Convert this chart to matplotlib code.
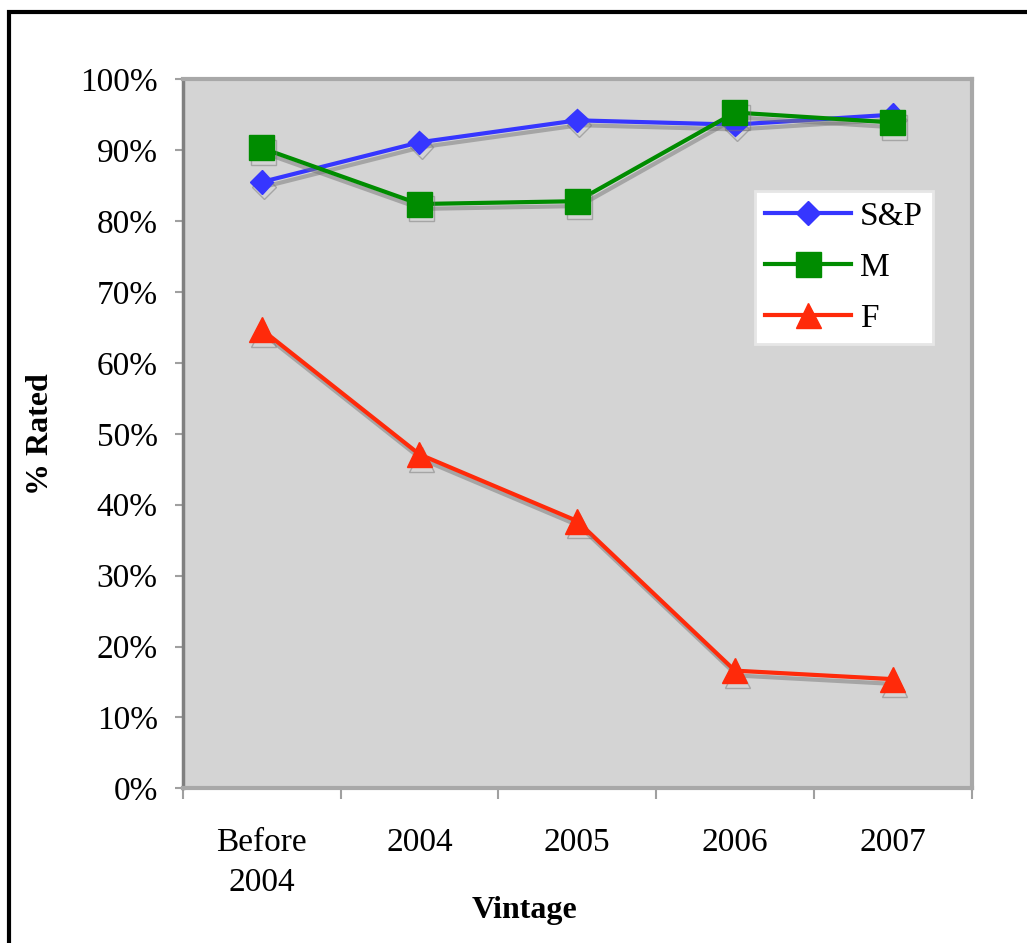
import numpy as np
import matplotlib
matplotlib.use("Agg")
import matplotlib.pyplot as plt
import matplotlib.patheffects as pe
from matplotlib.patches import Rectangle
from matplotlib.ticker import FuncFormatter

# data
vintages = ["Before\n2004", "2004", "2005", "2006", "2007"]
sp_rated = [85.5, 91.1, 94.2, 93.6, 95.0]
m_rated = [90.3, 82.4, 82.8, 95.3, 93.9]
f_rated = [64.7, 47.1, 37.7, 16.6, 15.4]
y_ticks = [0, 10, 20, 30, 40, 50, 60, 70, 80, 90, 100]

plt.rcParams["font.family"] = ["Liberation Serif", "DejaVu Serif"]

fig = plt.figure(figsize=(10.27, 9.43), dpi=100)
ax = fig.add_axes([0.178, 0.164, 0.768, 0.752])
ax.set_facecolor("#d4d4d4")

# outer black frame (cropped on right and bottom in the reference)
fig.add_artist(Rectangle((9 / 1027, -0.1), 1.2, 1.1 - 12 / 943,
                         transform=fig.transFigure, fill=False,
                         edgecolor="black", linewidth=3, clip_on=False))

x = np.arange(len(vintages))
shadow = [pe.SimpleLineShadow(offset=(1.5, -3.5), shadow_color="#777777", alpha=0.5), pe.Normal()]

ax.plot(x, sp_rated, color="#3636ff", linewidth=3, marker="D", markersize=12,
        label="S&P", path_effects=shadow, zorder=3)
ax.plot(x, m_rated, color="#008c00", linewidth=3, marker="s", markersize=18,
        label="M", path_effects=shadow, zorder=4)
ax.plot(x, f_rated, color="#ff2a0a", linewidth=3, marker="^", markersize=18,
        label="F", path_effects=shadow, zorder=3)

ax.set_xlim(-0.5, len(vintages) - 0.5)
ax.set_ylim(0, 100)
ax.set_yticks(y_ticks)
ax.yaxis.set_major_formatter(FuncFormatter(lambda v, _: f"{v:.0f}%"))
ax.set_xticks(x)
ax.set_xticklabels(vintages)
ax.set_xticks(np.arange(-0.5, len(vintages)), minor=True)

ax.tick_params(axis="y", labelsize=24, length=6, width=1.5, color="#a0a0a0", pad=12)
ax.tick_params(axis="x", which="major", labelsize=24, length=0, pad=28)
ax.tick_params(axis="x", which="minor", length=8, width=1.5, color="#a0a0a0")
for lab in ax.get_xticklabels():
    lab.set_linespacing(1.4)

for side in ["top", "right", "bottom"]:
    ax.spines[side].set_color("#a8a8a8")
    ax.spines[side].set_linewidth(3)
ax.spines["left"].set_color("#808080")
ax.spines["left"].set_linewidth(2.5)

ax.set_ylabel("% Rated", fontsize=23, fontweight="bold", labelpad=18)
ax.set_xlabel("Vintage", fontsize=23, fontweight="bold")
ax.xaxis.set_label_coords(0.433, -0.152)

leg = ax.legend(loc="upper left", bbox_to_anchor=(0.725, 0.842), borderaxespad=0,
                fontsize=24, frameon=True, fancybox=False, framealpha=1,
                edgecolor="#e6e6e6", handlelength=2.6, borderpad=0.3,
                labelspacing=0.62, handletextpad=0.25)
leg.get_frame().set_linewidth(2)
for h in leg.legend_handles:
    h.set_path_effects([])

fig.savefig("out.png", dpi=100)
